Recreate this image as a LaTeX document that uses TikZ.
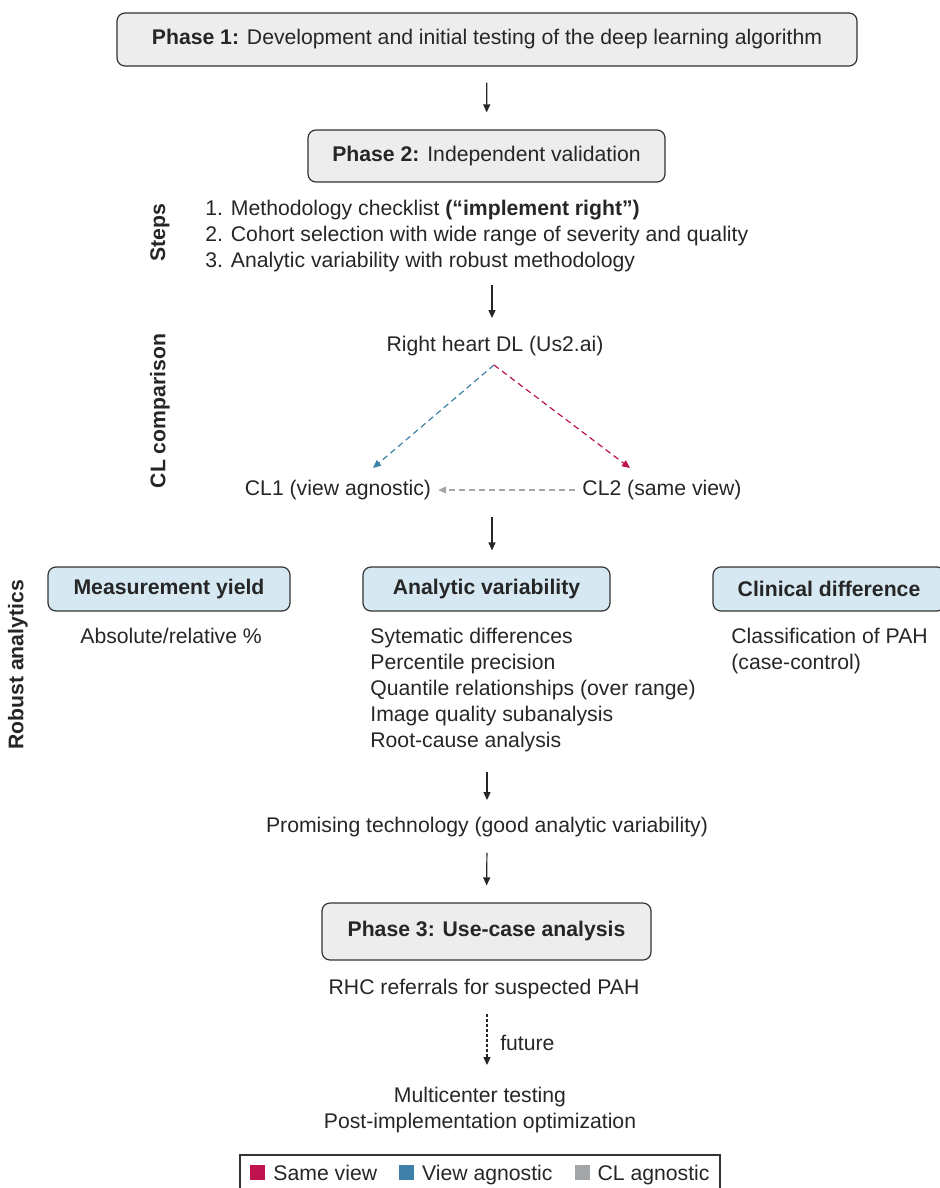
\documentclass[tikz,border=0pt]{standalone}
\usepackage{fontspec}
\setmainfont{Liberation Sans}
\usetikzlibrary{arrows.meta}
\definecolor{sameview}{HTML}{C0124F}
\definecolor{viewagn}{HTML}{3F80A8}
\definecolor{clagn}{HTML}{A2A6A8}
\definecolor{phasefill}{HTML}{EDEDED}
\definecolor{anafill}{HTML}{D6E8F2}
\newcommand{\fs}{\fontsize{10.6}{13}\selectfont}
\newcommand{\legsq}[1]{\textcolor{#1}{\rule{7.5pt}{7.5pt}}\hspace{4pt}}
\begin{document}
\begin{tikzpicture}[x=0.5pt, y=-0.5pt,
    every node/.style={font=\fs, text=black!85},
    phase/.style={draw=black!80, line width=0.6pt, rounded corners=4pt, fill=phasefill, minimum height=26.5pt, inner sep=0pt},
    ana/.style={draw=black!80, line width=0.6pt, rounded corners=4pt, fill=anafill, minimum height=22pt, inner sep=0pt, font=\fs\bfseries},
    side/.style={rotate=90, font=\fs\bfseries},
    lst/.style={align=left, anchor=north west, inner sep=0pt},
    arr/.style={-{Triangle[length=4pt, width=3.5pt]}, line width=0.6pt, black!85},
    dsh/.style={-{Triangle[length=4pt, width=3.5pt]}, line width=0.6pt, dash pattern=on 3pt off 2pt},
  ]
  \useasboundingbox (0,0) rectangle (940,1188);
  % phases 1 and 2
  \node[phase, minimum width=370pt] (ph1) at (487,39.5) {\textbf{Phase 1:} Development and initial testing of the deep learning algorithm};
  \node[phase, minimum width=178.5pt, minimum height=26pt] (ph2) at (486.5,156) {\textbf{Phase 2:} Independent validation};
  \draw[arr, shorten <=8pt, shorten >=8.5pt] (ph1) -- (ph2);

  \node[side] (stepslab) at (160,233) {Steps};
  \node[lst] (steps) at (205,200) {1. Methodology checklist \textbf{(“implement right”)}\\2. Cohort selection with wide range of severity and quality\\3. Analytic variability with robust methodology};

  % CL comparison
  \node[side] (cllab) at (160,411) {CL comparison};
  \node (rh) at (495,346) {Right heart DL (Us2.ai)};
  \node (cl1) at (338,490) {CL1 (view agnostic)};
  \node (cl2) at (662,490) {CL2 (same view)};
  \coordinate (stepsend) at (492,270);
  \draw[arr, shorten <=7.5pt, shorten >=5.5pt] (stepsend) -- (rh.north -| stepsend);
  \coordinate (rhsplit) at (494,365);
  \draw[dsh, viewagn] (rhsplit) -- (373,468) coordinate (cl1end);
  \draw[dsh, sameview] (rhsplit) -- (630,468) coordinate (cl2end);
  \draw[dsh, clagn] (cl2.west) -- (cl1.east);

  % robust analytics
  \node[side] (ralab) at (18,665) {Robust analytics};
  \node[ana, minimum width=121pt] (my) at (169,589) {Measurement yield};
  \node[ana, minimum width=123.5pt] (av) at (486.5,589) {Analytic variability};
  \node[ana, minimum width=116pt] (cd) at (829,589) {Clinical difference};
  \coordinate (cljoin) at (492,517);
  \draw[arr, shorten >=8pt] (cljoin) -- (av.north -| cljoin);
  \node[lst] (mylist) at (80,628) {Absolute/relative \%};
  \node[lst] (avlist) at (370,628) {Sytematic differences\\Percentile precision\\Quantile relationships (over range)\\Image quality subanalysis\\Root-cause analysis};
  \node[lst] (cdlist) at (731,628) {Classification of PAH\\(case-control)};

  % promising technology and phase 3
  \node (prom) at (487,827) {Promising technology (good analytic variability)};
  \draw[arr, shorten <=9.5pt, shorten >=5pt] (avlist.south -| prom.north) -- (prom.north);
  \node[phase, minimum width=164.5pt, minimum height=28.5pt, font=\fs\bfseries] (ph3) at (486.5,931.5) {Phase 3: Use-case analysis};
  \draw[arr, shorten <=4.5pt, shorten >=8.5pt] (prom.south) -- (ph3.north);
  \node (rhc) at (484,989) {RHC referrals for suspected PAH};
  \node[align=center] (multi) at (480,1110) {Multicenter testing\\Post-implementation optimization};
  \draw[dsh, black!85, dash pattern=on 1.5pt off 1pt, shorten <=4pt, shorten >=7.5pt] (rhc.south -| 487,0) -- (multi.north -| 487,0) node[midway, right=3pt] {future};

  % legend
  \node[draw=black!80, line width=0.6pt, minimum width=240pt, minimum height=20pt, inner sep=0pt] (legend) at (480,1175) {\legsq{sameview}Same view\hspace{11pt}\legsq{viewagn}View agnostic\hspace{11pt}\legsq{clagn}CL agnostic};
\end{tikzpicture}
\end{document}
